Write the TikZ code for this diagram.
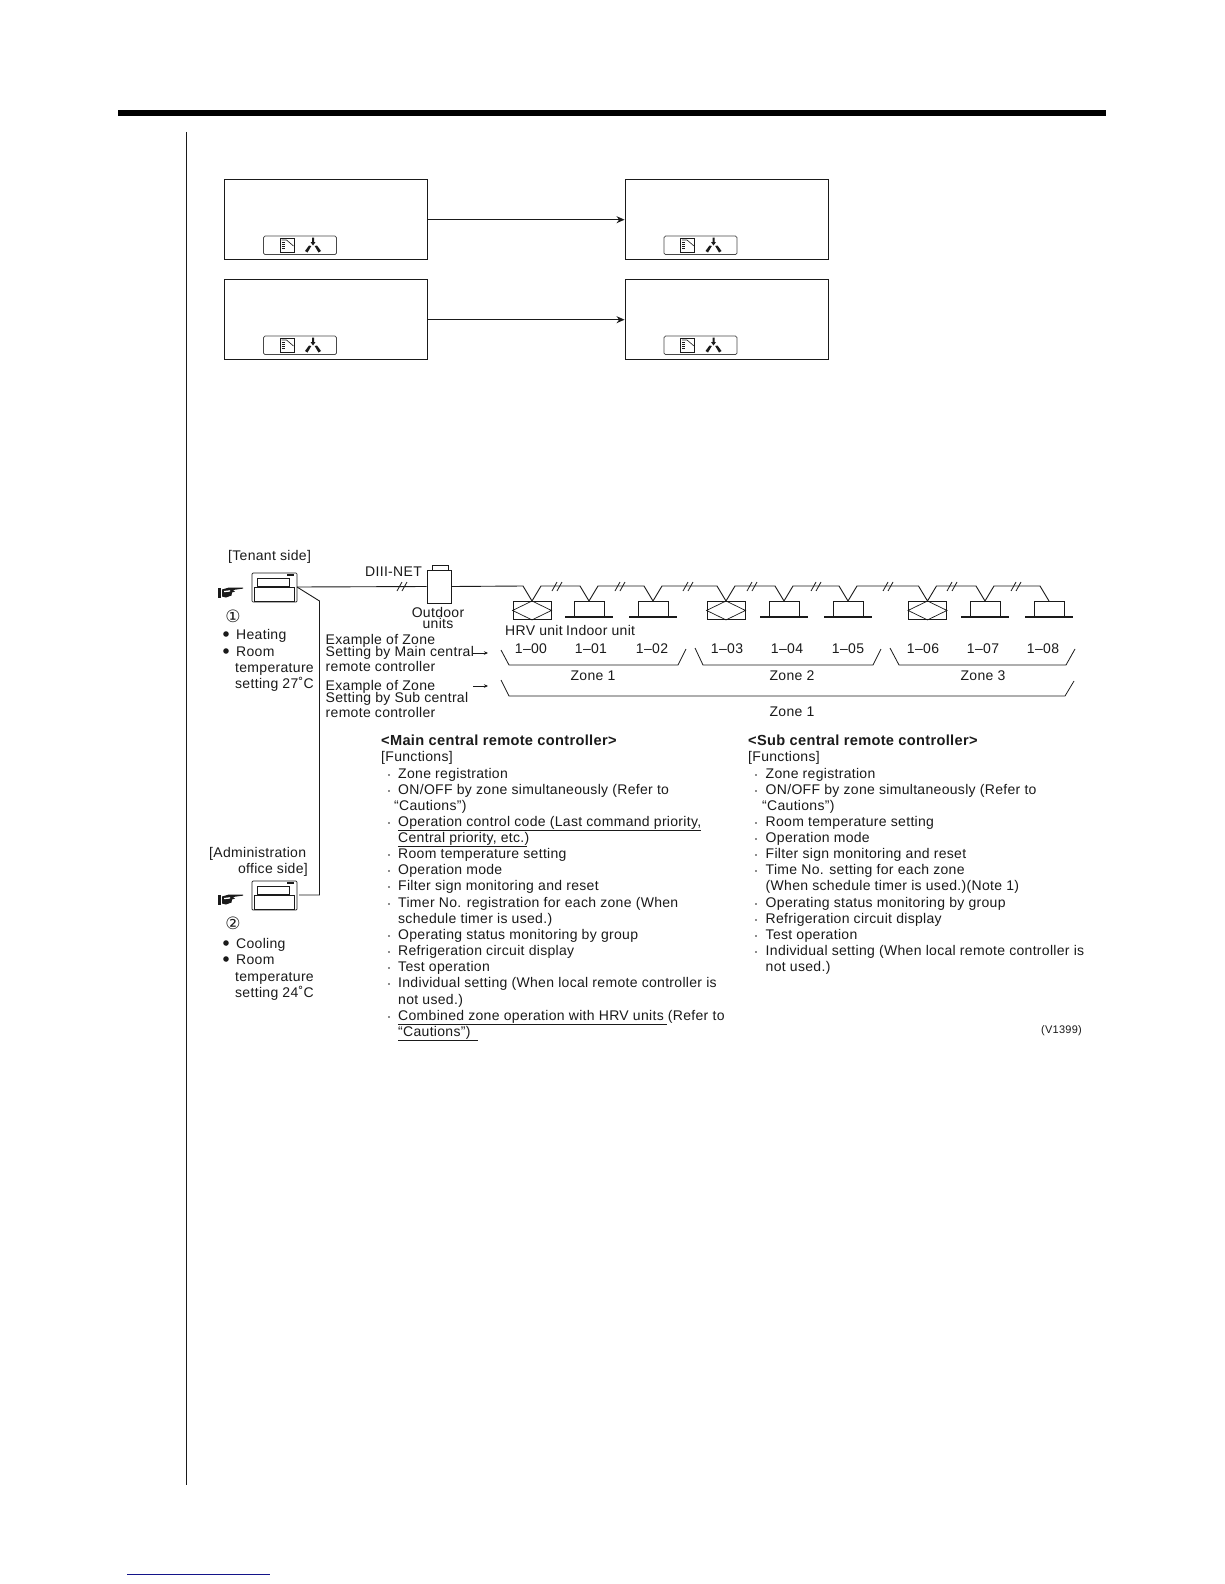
\documentclass[tikz,border=0pt]{standalone}
\usepackage{fontspec}
\setmainfont[LetterSpace=2.2]{Liberation Sans}
\newfontfamily\symfont{DejaVu Sans}
\usetikzlibrary{calc,arrows.meta}
\definecolor{ink}{HTML}{1A1A1A}
\definecolor{linkblue}{HTML}{14148A}
\tikzset{
  txt/.style={anchor=west,inner sep=0pt,text=ink,font=\fontsize{14}{15}\selectfont},
  tight/.style={txt,font=\fontsize{14}{12}\selectfont},
  bold/.style={txt,font=\fontsize{14.6}{15}\selectfont\bfseries},
  ctr/.style={txt,anchor=center},
  panel/.style={draw=ink,line width=1pt,minimum width=203pt,minimum height=79.5pt,inner sep=0pt},
  ledbar/.style={draw=ink!80,line width=.7pt,rounded corners=1.5pt,minimum width=73pt,minimum height=18.5pt,inner sep=0pt},
  wire/.style={draw=ink,line width=.9pt},
  flow/.style={draw=ink,line width=.9pt,-{Stealth[length=8pt,width=7pt]}},
  indoor/.style={draw=ink,line width=.8pt,minimum width=30pt,minimum height=15pt,inner sep=0pt},
  hrv/.style={draw=ink,line width=.9pt,minimum width=38pt,minimum height=18pt,inner sep=0pt},
  base/.style={draw=ink,line width=1.4pt},
  brace/.style={draw=ink,line width=.8pt},
  ul/.style={draw=ink,line width=.8pt},
}
\newcommand{\pdot}[1]{\fill[ink] (#1) circle (.9pt);}
\newcommand{\ctrlicon}[2]{%
  \draw[ink,line width=.7pt,rounded corners=1pt] (#1+0,#2+0) rectangle +(45,29);
  \draw[ink,line width=.7pt] (#1+5,#2+5) rectangle +(32,8);
  \draw[ink,line width=.7pt] (#1+2,#2+14) rectangle +(40,14);
  \fill[ink] (#1+35,#2+.5) rectangle +(7,2);
}
\newcommand{\handicon}[2]{%
  \fill[ink] (#1+0,#2+1) -- (#1+2.5,#2+1) -- (#1+2.5,#2+11) -- (#1+0,#2+11) -- cycle;
  \fill[ink] (#1+4,#2+2.5) -- (#1+11,#2+.5) -- (#1+25,#2+.5) -- (#1+25,#2+1.6) -- (#1+15,#2+3) -- (#1+17,#2+4.5) -- (#1+14,#2+5.5) -- (#1+13.5,#2+8.5) -- (#1+8,#2+10.5) -- (#1+4,#2+9.5) -- cycle;
  \fill[white] (#1+6,#2+4) -- (#1+12,#2+3.2) -- (#1+12,#2+4.6) -- (#1+6,#2+5.2) -- cycle;
}
\newcommand{\barsym}[2]{%
  \draw[ink,line width=1pt] (#1+16.5,#2+2) rectangle +(14,14.5);
  \draw[ink,line width=.6pt] (#1+18,#2+4) -- (#1+23,#2+4) -- (#1+30,#2+10);
  \foreach \k in {6.2,8.4,10.6,12.8} \draw[ink,line width=.7pt] (#1+18,#2+\k) -- (#1+21,#2+\k);
  \fill[ink] (#1+48.5,#2+1.5) -- (#1+50.5,#2+1.5) -- (#1+50.5,#2+6) -- (#1+52,#2+6) -- (#1+49.5,#2+9.5) -- (#1+47,#2+6) -- (#1+48.5,#2+6) -- cycle;
  \fill[ink] (#1+47.8,#2+10) -- (#1+44,#2+16.5) -- (#1+41.5,#2+15) -- (#1+45.5,#2+9.5) -- cycle;
  \fill[ink] (#1+51.2,#2+10) -- (#1+55,#2+16.5) -- (#1+57.5,#2+15) -- (#1+53.5,#2+9.5) -- cycle;
}
\begin{document}
\begin{tikzpicture}[x=1pt,y=-1pt]
\useasboundingbox (0,0) rectangle (1224,1584);
\fill[white] (0,0) rectangle (1224,1584);
% page furniture
\fill[black] (118,110) rectangle (1106,116);
\draw[ink,line width=.9pt] (186,132) -- (186,1485);
\draw[linkblue,line width=1pt] (127,1574.5) -- (270,1574.5);
% panels
\node[panel] (pa) at (325.5,219.7) {};
\node[panel] (pb) at (726.5,219.7) {};
\node[panel] (pc) at (325.5,319.7) {};
\node[panel] (pd) at (726.5,319.7) {};
\draw[flow] (pa) -- (pb);
\draw[flow] (pc) -- (pd);
\node[ledbar] (la) at (300,245.3) {};
\node[ledbar] (lb) at (700.5,245.3) {};
\node[ledbar] (lc) at (300,345.3) {};
\node[ledbar] (ld) at (700.5,345.3) {};
\barsym{263.5}{236}\barsym{664}{236}\barsym{263.5}{336}\barsym{664}{336}
% controllers
\coordinate (ca) at (297,587);
\coordinate (cb) at (299,895);
\ctrlicon{252}{573}
\ctrlicon{252}{881}
\handicon{218}{587}
\handicon{218}{894}
\node[txt] (tenant) at (228,557) {[Tenant side]};
\node[txt] (admin) at (209,854) {[Administration};
\node[txt,anchor=east] (office) at (308,870) {office side]};
\node[inner sep=0pt,text=ink,font=\symfont\fontsize{17}{18}\selectfont] (c1) at (233,616) {①};
\node[inner sep=0pt,text=ink,font=\symfont\fontsize{17}{18}\selectfont] (c2) at (233,923) {②};
\foreach \y in {634,651,943,959} \fill[ink] (226,\y) circle (2.8pt);
\node[txt] (h1) at (236,636) {Heating};
\node[txt] (h2) at (236,652) {Room};
\node[txt] (h3) at (235,669) {temperature};
\node[txt] (h4) at (235,684) {setting 27˚C};
\node[txt] (k1) at (236,945) {Cooling};
\node[txt] (k2) at (236,960) {Room};
\node[txt] (k3) at (235,978) {temperature};
\node[txt] (k4) at (235,993) {setting 24˚C};
% outdoor
\node[draw=ink,line width=.9pt,minimum width=24pt,minimum height=33pt,inner sep=0pt] (out) at (439,586.5) {};
\draw[ink,line width=.8pt] (432,570) -- (432,565.5) -- (448,565.5) -- (448,570);
\node[txt] (diii) at (365,572) {DIII-NET};
\node[ctr] (o1) at (438,612) {Outdoor};
\node[ctr] (o2) at (438,623.5) {units};
% units
\node[hrv,anchor=north] (u1) at (532,601) {};
\node[indoor,anchor=north] (u2) at (589,601) {};
\node[indoor,anchor=north] (u3) at (653,601) {};
\node[hrv,anchor=north] (u4) at (726,601) {};
\node[indoor,anchor=north] (u5) at (784,601) {};
\node[indoor,anchor=north] (u6) at (848,601) {};
\node[hrv,anchor=north] (u7) at (927.5,601) {};
\node[indoor,anchor=north] (u8) at (985,601) {};
\node[indoor,anchor=north] (u9) at (1049,601) {};
\foreach \u in {u1,u4,u7}
  \draw[ink,line width=.7pt] (\u.west) -- (\u.north) -- (\u.east) -- (\u.south) -- cycle;
\foreach \u in {u2,u3,u5,u6,u8,u9}
  \draw[base] ($(\u.south)+(-24,0)$) -- ($(\u.south)+(24,0)$);
\foreach \u in {u1,u2,u3,u4,u5,u6,u7,u8,u9}{
  \coordinate (\u i) at ($(\u.north)+(-9,-15)$);
  \coordinate (\u o) at ($(\u.north)+(9,-15)$);
}
\draw[wire] (out.east) -- (u1i) -- (u1.north) -- (u1o) -- (u2i) -- (u2.north) -- (u2o) -- (u3i) -- (u3.north) -- (u3o) -- (u4i) -- (u4.north) -- (u4o) -- (u5i) -- (u5.north) -- (u5o) -- (u6i) -- (u6.north) -- (u6o) -- (u7i) -- (u7.north) -- (u7o) -- (u8i) -- (u8.north) -- (u8o) -- (u9i) -- (u9.north);
\draw[wire] (ca) -- (out.west);
\draw[wire] (ca) -- (319.5,601) -- (319.5,895) -- (cb);
\foreach \x in {402,557,620,688,752,816,888,952,1016}{
  \draw[ink,line width=.8pt] (\x-5,591) -- (\x,582);
  \draw[ink,line width=.8pt] (\x,591) -- (\x+5,582);
}
\node[txt] (hrvt) at (505,630) {HRV unit};
\node[txt] (indt) at (566,630) {Indoor unit};
\foreach \n/\x/\t in {a/531/00,b/591/01,c/652/02,d/727/03,e/787/04,f/848/05,g/923/06,h/983/07,i/1043/08}
  \node[ctr] (num\n) at (\x,648.5) {1–\t};
\node[ctr] (z1) at (593,676) {Zone 1};
\node[ctr] (z2) at (792,676) {Zone 2};
\node[ctr] (z3) at (983,676) {Zone 3};
\node[ctr] (z4) at (792,712) {Zone 1};
\draw[brace] (501,650) -- (509,665) -- (678,665) -- (686,649);
\draw[brace] (695,648) -- (703,665) -- (873,665) -- (881,649);
\draw[brace] (890,648) -- (899,665) -- (1066,665) -- (1075,649);
\draw[brace] (501,680) -- (509,696) -- (1065,696) -- (1074,681);
\node[tight] (ex1) at (325.5,641) {Example of Zone};
\node[tight] (ex2) at (325.5,653) {Setting by Main central};
\node[tight] (ex3) at (325.5,666) {remote controller};
\node[tight] (ex4) at (325.5,687) {Example of Zone};
\node[tight] (ex5) at (325.5,699) {Setting by Sub central};
\node[tight] (ex6) at (325.5,712) {remote controller};
\coordinate (ar1s) at (473,653);\coordinate (ar1e) at (488,653);
\coordinate (ar2s) at (473,686);\coordinate (ar2e) at (488,686);
\draw[ink,line width=.7pt,-{Stealth[length=4pt,width=3.5pt]}] (ar1s) -- (ar1e);
\draw[ink,line width=.7pt,-{Stealth[length=4pt,width=3.5pt]}] (ar2s) -- (ar2e);
% main column
\node[bold] (mh) at (381,740) {<Main central remote controller>};
\node[txt] (mf) at (381,758) {[Functions]};
\foreach \n/\y/\t in {
 a/775/{Zone registration},
 b/791/{ON/OFF by zone simultaneously (Refer to},
 d/823/{Operation control code (Last command priority,},
 f/855/{Room temperature setting},
 g/871/{Operation mode},
 h/887/{Filter sign monitoring and reset},
 i/904/{Timer No. registration for each zone (When},
 k/936/{Operating status monitoring by group},
 l/952/{Refrigeration circuit display},
 m/968/{Test operation},
 n/984/{Individual setting (When local remote controller is},
 p/1017/{Combined zone operation with HRV units (Refer to}}{
  \node[txt] (m\n) at (398,\y) {\t};
  \pdot{389,\y}
}
\node[txt] (mc) at (394,807) {“Cautions”)};
\node[txt] (me) at (398,839) {Central priority, etc.)};
\node[txt] (mj) at (398,920) {schedule timer is used.)};
\node[txt] (mo) at (398,1001) {not used.)};
\node[txt] (mq) at (398,1033) {“Cautions”)};
\draw[ul] (398,830) -- (701,830);
\draw[ul] (398,846) -- (527,846);
\draw[ul] (398,1024) -- (667,1024);
\draw[ul] (398,1040) -- (478,1040);
% sub column
\node[bold] (sh) at (748,740) {<Sub central remote controller>};
\node[txt] (sf) at (748,758) {[Functions]};
\foreach \n/\y/\t in {
 a/775/{Zone registration},
 b/791/{ON/OFF by zone simultaneously (Refer to},
 d/823/{Room temperature setting},
 e/839/{Operation mode},
 f/855/{Filter sign monitoring and reset},
 g/871/{Time No. setting for each zone},
 i/904/{Operating status monitoring by group},
 j/920/{Refrigeration circuit display},
 k/936/{Test operation},
 l/952/{Individual setting (When local remote controller is}}{
  \node[txt] (s\n) at (765.5,\y) {\t};
  \pdot{756,\y}
}
\node[txt] (sc) at (762,807) {“Cautions”)};
\node[txt] (sh2) at (765.5,887) {(When schedule timer is used.)(Note 1)};
\node[txt] (sm) at (765.5,968) {not used.)};
\node[anchor=east,inner sep=0pt,text=ink,font=\fontsize{11}{12}\selectfont] (vn) at (1082,1031) {(V1399)};
\end{tikzpicture}
\end{document}
